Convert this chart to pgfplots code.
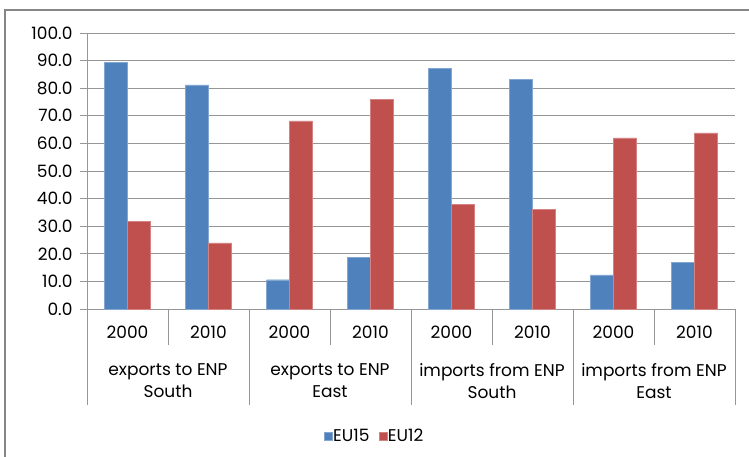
\documentclass[border=0pt]{standalone}
\usepackage{pgfplots}
\pgfplotsset{compat=1.18}
\usepackage{fontspec}
\setmainfont{Poppins}
\definecolor{bblue}{RGB}{79,129,189}
\definecolor{bred}{RGB}{192,80,77}
\definecolor{gridc}{RGB}{150,150,150}
\definecolor{framec}{RGB}{134,134,134}
\begin{document}
\begin{tikzpicture}[x=1pt,y=1pt]
\useasboundingbox (0,0) rectangle (749,456);
\draw[framec, line width=2.2pt] (5,-20) rectangle (770,446);
\begin{axis}[
  at={(87pt,147pt)}, anchor=south west,
  width=648pt, height=276pt, scale only axis,
  ybar=0pt, bar width=23pt,
  xmin=-0.5, xmax=7.5, ymin=0, ymax=100,
  ytick={0,10,...,100},
  xtick={0,...,7},
  xticklabels={2000,2010,2000,2010,2000,2010,2000,2010},
  /pgf/number format/assume math mode=true,
  yticklabel style={/pgf/number format/fixed,/pgf/number format/fixed zerofill,/pgf/number format/precision=1, font=\fontsize{17}{19}\selectfont, xshift=-4pt},
  xticklabel style={font=\fontsize{17}{19}\selectfont, yshift=-6pt},
  ymajorgrids, grid style={gridc, line width=1pt},
  axis line style={gridc, line width=1pt},
  axis x line*=bottom, axis y line*=left,
  major x tick style={draw=none},
  major y tick style={gridc, line width=1pt},
  tick align=outside, major tick length=7pt,
  clip=false,
  legend columns=2,
  legend style={draw=none, at={(0.443,-0.46)}, anchor=center, font=\fontsize{17}{19}\selectfont,
    /tikz/every even column/.append style={column sep=0pt},
    /tikz/every odd column/.append style={column sep=0pt},
    nodes={inner xsep=1pt}},
  legend image code/.code={\fill[#1] (0pt,-4pt) rectangle (8pt,4pt);},
]
\addplot[fill=bblue, draw=bblue!70!white] coordinates {(0,89.3) (1,81.2) (2,10.6) (3,18.6) (4,87.1) (5,83.1) (6,12.4) (7,16.8)};
\addplot[fill=bred, draw=bred!70!white] coordinates {(0,31.7) (1,24.0) (2,68.2) (3,75.9) (4,37.9) (5,36.1) (6,62.0) (7,63.8)};
\legend{EU15\hspace*{8pt},EU12}
\pgfplotsinvokeforeach{0.5,2.5,4.5,6.5}{\draw[gridc, line width=1pt] (axis cs:#1,0) -- ([yshift=-36pt]axis cs:#1,0);}
\pgfplotsinvokeforeach{-0.5,1.5,3.5,5.5,7.5}{\draw[gridc, line width=1pt] (axis cs:#1,0) -- ([yshift=-96pt]axis cs:#1,0);}
\node[align=center, font=\fontsize{17}{22}\selectfont] at (axis cs:0.5,0) [yshift=-72pt] {exports to ENP\\South};
\node[align=center, font=\fontsize{17}{22}\selectfont] at (axis cs:2.5,0) [yshift=-72pt] {exports to ENP\\East};
\node[align=center, font=\fontsize{17}{22}\selectfont] at (axis cs:4.5,0) [yshift=-72pt] {imports from ENP\\South};
\node[align=center, font=\fontsize{17}{22}\selectfont] at (axis cs:6.5,0) [yshift=-72pt] {imports from ENP\\East};
\end{axis}
\end{tikzpicture}
\end{document}
